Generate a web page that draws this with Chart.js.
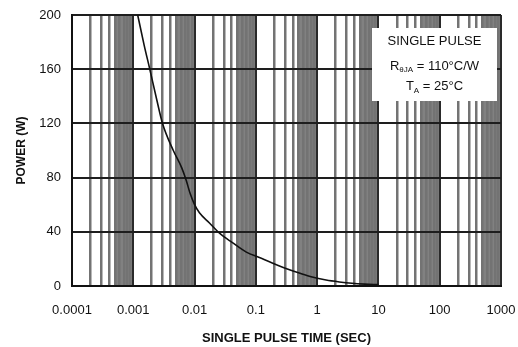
<!DOCTYPE html>
<html>
<head>
<meta charset="utf-8">
<script src="https://cdn.jsdelivr.net/npm/chart.js@4"></script>
<style>
  html, body { margin: 0; padding: 0; background: #fff; }
</style>
</head>
<body>
<canvas id="chart" width="518" height="347"></canvas>
<script>
// data
const pulseTime = [0.00118, 0.0015, 0.00186, 0.0024, 0.003, 0.0045, 0.0062, 0.0073, 0.0085, 0.01,
  0.012, 0.0175, 0.0255, 0.0415, 0.07, 0.114, 0.185, 0.31, 0.51, 0.83, 1.4, 2.3, 3.7, 6, 10];
const power = [200, 178, 160, 138, 120, 100, 87, 78, 68, 60,
  54, 46.5, 39, 32, 25, 21, 17, 13, 9.6, 6.6, 4.4, 3, 2, 1.4, 1];

// axes
const xDecades = [0.0001, 0.001, 0.01, 0.1, 1, 10, 100, 1000];
const xTickLabels = ['0.0001', '0.001', '0.01', '0.1', '1', '10', '100', '1000'];
const yTicks = [0, 40, 80, 120, 160, 200];

const noteLines = ['SINGLE PULSE', 'R', 'T'];

const FONT = "'Liberation Sans', Arial, sans-serif";

function decadeIndex(v) {
  return xDecades.findIndex(d => Math.abs(d - v) / d < 1e-6);
}

// shaded part of every decade (5 to 10)
const bandsPlugin = {
  id: 'bands',
  beforeDraw(chart) {
    const { ctx, chartArea, scales } = chart;
    const x = scales.x;
    ctx.save();
    ctx.fillStyle = '#818181';
    for (let i = 0; i < xDecades.length - 1; i++) {
      const x0 = x.getPixelForValue(xDecades[i] * 5);
      const x1 = x.getPixelForValue(xDecades[i + 1]);
      ctx.fillRect(x0, chartArea.top, x1 - x0, chartArea.bottom - chartArea.top);
    }
    ctx.restore();
  }
};

// the little note box top right
const notePlugin = {
  id: 'note',
  afterDraw(chart) {
    const { ctx, chartArea } = chart;
    const bx = chartArea.right - 129, by = chartArea.top + 13;
    const bw = 125, bh = 73;
    ctx.save();
    ctx.fillStyle = '#fff';
    ctx.fillRect(bx, by, bw, bh);
    ctx.fillStyle = '#111';
    ctx.textBaseline = 'middle';
    ctx.textAlign = 'center';
    const cx = bx + bw / 2;
    ctx.font = '13px ' + FONT;
    ctx.fillText(noteLines[0], cx, by + 13);

    // R thetaJA = 110°C/W
    const main2 = ' = 110°C/W';
    ctx.font = '13px ' + FONT;
    const wR = ctx.measureText('R').width;
    const wM = ctx.measureText(main2).width;
    ctx.font = '8px ' + FONT;
    const wS = ctx.measureText('θJA').width;
    let x0 = cx - (wR + wS + wM) / 2;
    const y2 = by + 38;
    ctx.textAlign = 'left';
    ctx.font = '13px ' + FONT;
    ctx.fillText('R', x0, y2);
    ctx.font = '8px ' + FONT;
    ctx.fillText('θJA', x0 + wR, y2 + 4);
    ctx.font = '13px ' + FONT;
    ctx.fillText(main2, x0 + wR + wS, y2);

    // TA = 25°C
    const main3 = ' = 25°C';
    const wT = ctx.measureText('T').width;
    const wM3 = ctx.measureText(main3).width;
    ctx.font = '8px ' + FONT;
    const wA = ctx.measureText('A').width;
    x0 = cx - (wT + wA + wM3) / 2;
    const y3 = by + 58;
    ctx.font = '13px ' + FONT;
    ctx.fillText('T', x0, y3);
    ctx.font = '8px ' + FONT;
    ctx.fillText('A', x0 + wT, y3 + 5);
    ctx.font = '13px ' + FONT;
    ctx.fillText(main3, x0 + wT + wA, y3);
    ctx.restore();
  }
};

const ctx = document.getElementById('chart').getContext('2d');
const chart = new Chart(ctx, {
  type: 'line',
  data: {
    datasets: [{
      data: pulseTime.map((t, i) => ({ x: t, y: power[i] })),
      borderColor: '#111',
      borderWidth: 1.6,
      pointRadius: 0,
      cubicInterpolationMode: 'monotone',
      fill: false
    }]
  },
  options: {
    responsive: false,
    animation: false,
    layout: { padding: { top: 15, right: 17, left: 0, bottom: 0 } },
    plugins: { legend: { display: false }, tooltip: { enabled: false } },
    scales: {
      x: {
        type: 'logarithmic',
        min: xDecades[0],
        max: xDecades[xDecades.length - 1],
        afterBuildTicks(scale) {
          const ticks = [];
          for (let i = 0; i < xDecades.length - 1; i++) {
            for (let m = 1; m <= 9; m++) {
              ticks.push({ value: xDecades[i] * m, major: m === 1 });
            }
          }
          ticks.push({ value: xDecades[xDecades.length - 1], major: true });
          scale.ticks = ticks;
        },
        afterFit(scale) {
          scale.height = 61;
          scale.paddingLeft = 0;
          scale.paddingRight = 0;
        },
        ticks: {
          autoSkip: false,
          maxRotation: 0,
          padding: 17,
          color: '#111',
          font: { family: FONT, size: 13 },
          callback(value) {
            const i = decadeIndex(value);
            return i >= 0 ? xTickLabels[i] : '';
          }
        },
        grid: {
          drawTicks: false,
          color: c => (c.tick && decadeIndex(c.tick.value) >= 0) ? '#2a2a2a' : '#737373',
          lineWidth: c => (c.tick && decadeIndex(c.tick.value) >= 0) ? 2 : 2.5
        },
        border: { color: '#111', width: 2 },
        title: {
          display: true,
          text: 'SINGLE PULSE TIME (SEC)',
          color: '#111',
          font: { family: FONT, size: 13, weight: 'bold' },
          padding: { top: 4, bottom: 1 }
        }
      },
      y: {
        min: yTicks[0],
        max: yTicks[yTicks.length - 1],
        afterBuildTicks(scale) {
          scale.ticks = yTicks.map(v => ({ value: v }));
        },
        afterFit(scale) {
          scale.width = 72;
          scale.paddingTop = 0;
          scale.paddingBottom = 0;
        },
        ticks: {
          padding: 11,
          color: '#111',
          font: { family: FONT, size: 13 }
        },
        grid: {
          drawTicks: false,
          color: '#1e1e1e',
          lineWidth: 2
        },
        border: { color: '#111', width: 2 },
        title: {
          display: true,
          text: 'POWER (W)',
          color: '#111',
          font: { family: FONT, size: 12, weight: 'bold' },
          padding: { top: 14, bottom: 0 }
        }
      }
    }
  },
  plugins: [bandsPlugin, notePlugin]
});
</script>
</body>
</html>
